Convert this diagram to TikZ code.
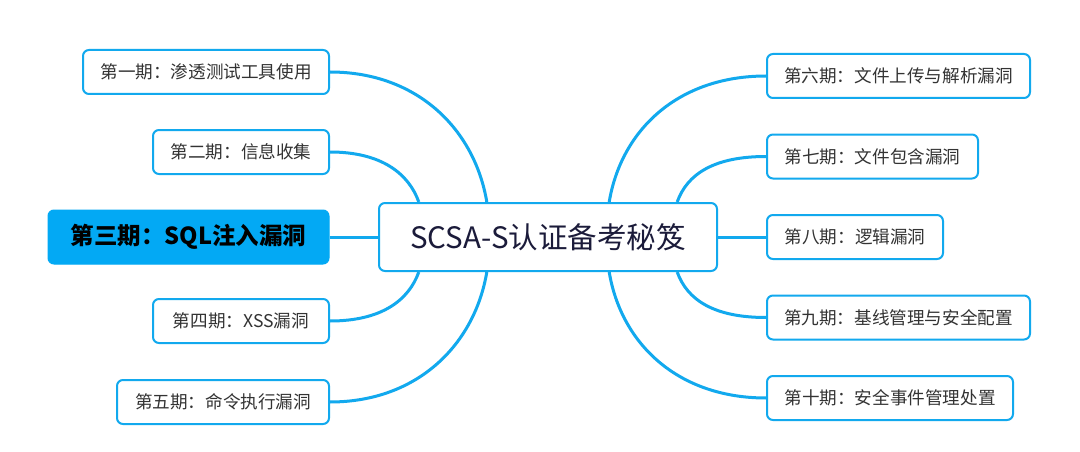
\documentclass[tikz,border=0pt]{standalone}
\usepackage{fontspec}
\newfontfamily\cjk{Noto Sans CJK SC}
\usetikzlibrary{calc}
\definecolor{lineblue}{HTML}{12A9EE}
\definecolor{fillblue}{HTML}{03A9F4}
\definecolor{leaftext}{HTML}{333333}
\definecolor{roottext}{HTML}{1B1B3A}
\tikzset{
  leaf/.style={draw=lineblue, line width=2pt, rounded corners=6pt, fill=white,
    minimum height=44pt, inner sep=0pt, font=\cjk\fontsize{17.6}{19}\selectfont, text=leaftext},
  hot/.style={draw=fillblue, fill=fillblue, line width=1pt, rounded corners=6pt,
    minimum height=54pt, inner sep=0pt, font=\cjk\bfseries\fontsize{23.5}{25}\selectfont, text=black},
  rootbox/.style={draw=lineblue, line width=2pt, rounded corners=6pt, fill=white,
    minimum width=338pt, minimum height=68pt, inner sep=0pt,
    font=\cjk\fontsize{29.5}{32}\selectfont, text=roottext},
  link/.style={draw=lineblue, line width=3pt}
}
\begin{document}
\begin{tikzpicture}[x=1pt,y=-1pt]
\fill[white] (0,0) rectangle (1080,452);
\useasboundingbox (0,0) rectangle (1080,452);
% root
\node[rootbox] (c) at (548,237) {SCSA-S认证备考秘笈};
% left
\node[leaf, minimum width=246pt] (l1) at (206,72) {第一期：渗透测试工具使用};
\node[leaf, minimum width=176pt] (l2) at (241,152) {第二期：信息收集};
\node[hot, minimum width=281pt] (l3) at (188.5,237) {第三期：SQL注入漏洞};
\node[leaf, minimum width=176pt] (l4) at (241,321) {第四期：XSS漏洞};
\node[leaf, minimum width=212pt] (l5) at (223,402) {第五期：命令执行漏洞};
% right
\node[leaf, minimum width=263pt] (r6) at (898.5,76) {第六期：文件上传与解析漏洞};
\node[leaf, minimum width=211pt] (r7) at (872.5,156.5) {第七期：文件包含漏洞};
\node[leaf, minimum width=176pt] (r8) at (855,237) {第八期：逻辑漏洞};
\node[leaf, minimum width=263pt] (r9) at (898.5,317.5) {第九期：基线管理与安全配置};
\node[leaf, minimum width=246pt] (r10) at (890,398) {第十期：安全事件管理处置};
% attachment points on root
\coordinate (t1) at ($(c.north west)!0.32!(c.north east)$);
\coordinate (t2) at ($(c.north west)!0.12!(c.north east)$);
\coordinate (t6) at ($(c.north west)!0.68!(c.north east)$);
\coordinate (t7) at ($(c.north west)!0.88!(c.north east)$);
\coordinate (b4) at ($(c.south west)!0.12!(c.south east)$);
\coordinate (b5) at ($(c.south west)!0.32!(c.south east)$);
\coordinate (b9) at ($(c.south west)!0.88!(c.south east)$);
\coordinate (b10) at ($(c.south west)!0.68!(c.south east)$);
% connectors
\draw[link] (l1.east) .. controls +(88,0) and +(-12,-72) .. (t1);
\draw[link] (l2.east) .. controls +(52,0) and +(-10,-28) .. (t2);
\draw[link] (l3.east) -- (c.west);
\draw[link] (l4.east) .. controls +(52,0) and +(-10,28) .. (b4);
\draw[link] (l5.east) .. controls +(88,0) and +(-12,72) .. (b5);
\draw[link] (r6.west) .. controls +(-88,0) and +(12,-72) .. (t6);
\draw[link] (r7.west) .. controls +(-52,0) and +(10,-28) .. (t7);
\draw[link] (r8.west) -- (c.east);
\draw[link] (r9.west) .. controls +(-52,0) and +(10,28) .. (b9);
\draw[link] (r10.west) .. controls +(-88,0) and +(12,72) .. (b10);
\end{tikzpicture}
\end{document}
